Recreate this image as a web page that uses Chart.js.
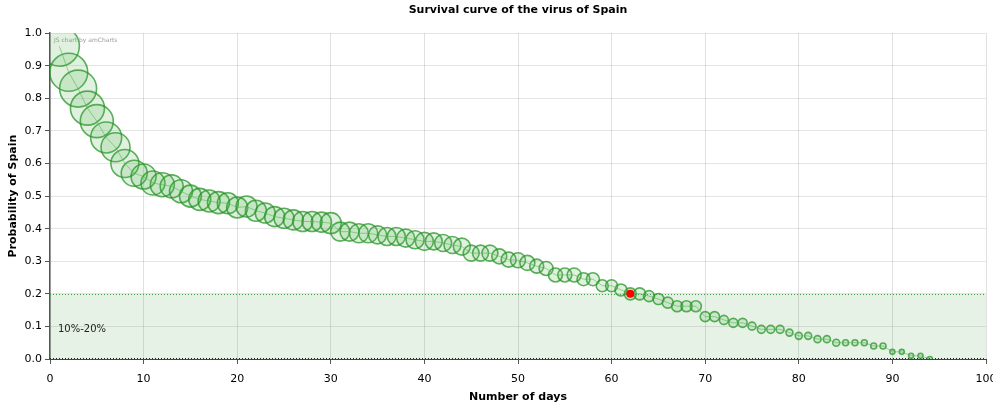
<!DOCTYPE html>
<html>
<head>
<meta charset="utf-8">
<title>Survival curve of the virus of Spain</title>
<script src="https://cdn.jsdelivr.net/npm/chart.js@4.4.1/dist/chart.umd.min.js"></script>
<style>
    html, body { margin: 0; padding: 0; background: #fff; overflow: hidden; }
    #survivalChart { display: block; }
</style>
</head>
<body>
<canvas id="survivalChart" width="993" height="406"></canvas>
<script>
// Días (eje x)
const days = [
    1, 2, 3, 4, 5, 6, 7, 8, 9, 10,
    11, 12, 13, 14, 15, 16, 17, 18, 19, 20,
    21, 22, 23, 24, 25, 26, 27, 28, 29, 30,
    31, 32, 33, 34, 35, 36, 37, 38, 39, 40,
    41, 42, 43, 44, 45, 46, 47, 48, 49, 50,
    51, 52, 53, 54, 55, 56, 57, 58, 59, 60,
    61, 62, 63, 64, 65, 66, 67, 68, 69, 70,
    71, 72, 73, 74, 75, 76, 77, 78, 79, 80,
    81, 82, 83, 84, 85, 86, 87, 88, 89, 90,
    91, 92, 93, 94
];

// Probabilidad de supervivencia (eje y)
const probability = [
    0.96, 0.88, 0.83, 0.77, 0.73, 0.68, 0.65, 0.60, 0.57, 0.56,
    0.54, 0.535, 0.53, 0.515, 0.50, 0.49, 0.485, 0.48, 0.478, 0.465,
    0.468, 0.455, 0.448, 0.437, 0.432, 0.427, 0.422, 0.422, 0.42, 0.417,
    0.391, 0.391, 0.386, 0.386, 0.381, 0.376, 0.376, 0.371, 0.366, 0.361,
    0.361, 0.356, 0.35, 0.345, 0.325, 0.325, 0.325, 0.315, 0.305, 0.303,
    0.295, 0.285, 0.278, 0.258, 0.258, 0.258, 0.245, 0.245, 0.225, 0.225,
    0.212, 0.20, 0.20, 0.193, 0.184, 0.173, 0.162, 0.162, 0.162, 0.13,
    0.13, 0.12, 0.111, 0.111, 0.101, 0.091, 0.091, 0.091, 0.081, 0.071,
    0.071, 0.061, 0.061, 0.05, 0.05, 0.05, 0.05, 0.04, 0.04, 0.022,
    0.022, 0.01, 0.01, 0.0
];

// Tamaño de cada burbuja (radio)
const bubbleSize = [
    20, 19, 18.5, 17, 16.5, 15.5, 14.5, 14, 13, 12.5,
    12, 12, 11.5, 11.5, 11, 11, 11, 11, 10.5, 10.5,
    10.5, 10.5, 10, 10, 10, 10, 10, 10, 10, 10.5,
    9.5, 9.5, 9.5, 9.5, 9, 9, 9, 9, 9, 9,
    8.5, 8.5, 8.5, 8.5, 8, 8, 8, 7.5, 7.5, 7.5,
    7.5, 7, 7, 7, 7, 7, 6.5, 6.5, 6, 6,
    6, 6, 6, 5.5, 5.5, 5.5, 5.5, 5.5, 5.5, 5,
    5, 4.5, 4.5, 4.5, 4, 4, 4, 4, 3.5, 3.5,
    3.5, 3.5, 3.5, 3.5, 3, 3, 3, 3, 3, 2.5,
    2.5, 2.5, 2.5, 2.5
];

// Punto marcado en rojo
const markDay = [62];
const markProb = [0.2];

// Banda guía 10%-20%
const bandRange = [0, 0.2];
const bandLabel = '10%-20%';

const xTicks = [0, 10, 20, 30, 40, 50, 60, 70, 80, 90, 100];
const yTicks = [0, 0.1, 0.2, 0.3, 0.4, 0.5, 0.6, 0.7, 0.8, 0.9, 1.0];

const FONT = "'DejaVu Sans', Verdana, sans-serif";

const bubbles = days.map((d, i) => ({ x: d, y: probability[i], r: bubbleSize[i] }));
const curve = days.map((d, i) => ({ x: d, y: probability[i] }));
const marks = markDay.map((d, i) => ({ x: d, y: markProb[i] }));

// Dibuja la banda sombreada y los textos
const guidePlugin = {
    id: 'guideBand',
    beforeDatasetsDraw(chart) {
        const { ctx, chartArea, scales } = chart;
        const yTop = scales.y.getPixelForValue(bandRange[1]);
        const yBottom = scales.y.getPixelForValue(bandRange[0]);
        ctx.save();
        ctx.fillStyle = 'rgba(0, 128, 0, 0.1)';
        ctx.fillRect(chartArea.left, yTop, chartArea.right - chartArea.left, yBottom - yTop);

        ctx.strokeStyle = 'rgba(40, 150, 40, 0.9)';
        ctx.lineWidth = 1;
        ctx.setLineDash([1, 2]);
        ctx.beginPath();
        ctx.moveTo(chartArea.left, Math.round(yTop) + 0.5);
        ctx.lineTo(chartArea.right, Math.round(yTop) + 0.5);
        ctx.stroke();

        ctx.strokeStyle = '#222';
        ctx.beginPath();
        ctx.moveTo(chartArea.left, Math.round(yBottom) - 0.5);
        ctx.lineTo(chartArea.right, Math.round(yBottom) - 0.5);
        ctx.stroke();
        ctx.setLineDash([]);

        ctx.fillStyle = '#222';
        ctx.font = '10px ' + FONT;
        ctx.textBaseline = 'middle';
        ctx.fillText(bandLabel, chartArea.left + 8, scales.y.getPixelForValue(0.09));

        ctx.fillStyle = '#999';
        ctx.font = '6px ' + FONT;
        ctx.fillText('JS chart by amCharts', chartArea.left + 4, chartArea.top + 7);
        ctx.restore();
    },
    // Etiquetas del eje x (se dibujan aparte para que "100" no reduzca el área)
    afterDraw(chart) {
        const { ctx, chartArea, scales } = chart;
        ctx.save();
        ctx.fillStyle = '#000';
        ctx.font = '11px ' + FONT;
        ctx.textAlign = 'center';
        ctx.textBaseline = 'middle';
        xTicks.forEach(v => {
            ctx.fillText(String(v), scales.x.getPixelForValue(v), chartArea.bottom + 20);
        });
        ctx.restore();
    }
};

new Chart(document.getElementById('survivalChart'), {
    type: 'bubble',
    data: {
        datasets: [
            {
                type: 'scatter',
                label: 'Marca',
                data: marks,
                pointRadius: 4,
                pointBackgroundColor: '#ff0000',
                pointBorderWidth: 0,
                order: 0,
            },
            {
                type: 'line',
                label: 'Curva',
                data: curve,
                borderColor: 'rgba(80, 175, 80, 0.55)',
                borderWidth: 1,
                pointRadius: 0,
                fill: false,
                clip: 0,
                order: 1,
            },
            {
                label: 'Probability of Spain',
                data: bubbles,
                backgroundColor: 'rgba(70, 170, 70, 0.17)',
                borderColor: 'rgba(40, 150, 40, 0.75)',
                borderWidth: 1.6,
                clip: 0,
                order: 2,
            },
        ],
    },
    options: {
        responsive: false,
        animation: false,
        layout: { autoPadding: false, padding: { top: 0, right: 7, bottom: 0, left: 0 } },
        plugins: {
            legend: { display: false },
            tooltip: { enabled: false },
            title: {
                display: true,
                fullSize: false,
                text: 'Survival curve of the virus of Spain',
                color: '#000',
                font: { family: FONT, size: 11, weight: 'bold' },
                padding: { top: 4, bottom: 16 },
            },
        },
        scales: {
            x: {
                type: 'linear',
                min: 0,
                max: 100,
                afterBuildTicks: (scale) => { scale.ticks = xTicks.map(v => ({ value: v })); },
                afterFit: (scale) => { scale.height = 47; },
                ticks: { display: false },
                grid: { color: 'rgba(0, 0, 0, 0.12)', tickColor: '#555', tickLength: 5 },
                border: { color: '#444', width: 1 },
                title: {
                    display: true,
                    text: 'Number of days',
                    color: '#000',
                    font: { family: FONT, size: 11, weight: 'bold' },
                    padding: { top: 0, bottom: 2 },
                },
            },
            y: {
                type: 'linear',
                min: 0,
                max: 1,
                afterBuildTicks: (scale) => { scale.ticks = yTicks.map(v => ({ value: v })); },
                afterFit: (scale) => { scale.width = 50; },
                ticks: {
                    color: '#000',
                    font: { family: FONT, size: 11 },
                    padding: 3,
                    callback: (v) => Number(v).toFixed(1),
                },
                grid: { color: 'rgba(0, 0, 0, 0.1)', tickColor: '#555', tickLength: 5 },
                border: { color: '#555', width: 1.5 },
                title: {
                    display: true,
                    text: 'Probability of Spain',
                    color: '#000',
                    font: { family: FONT, size: 11, weight: 'bold' },
                    padding: { top: 7, bottom: 0 },
                },
            },
        },
    },
    plugins: [guidePlugin],
});
</script>
</body>
</html>
